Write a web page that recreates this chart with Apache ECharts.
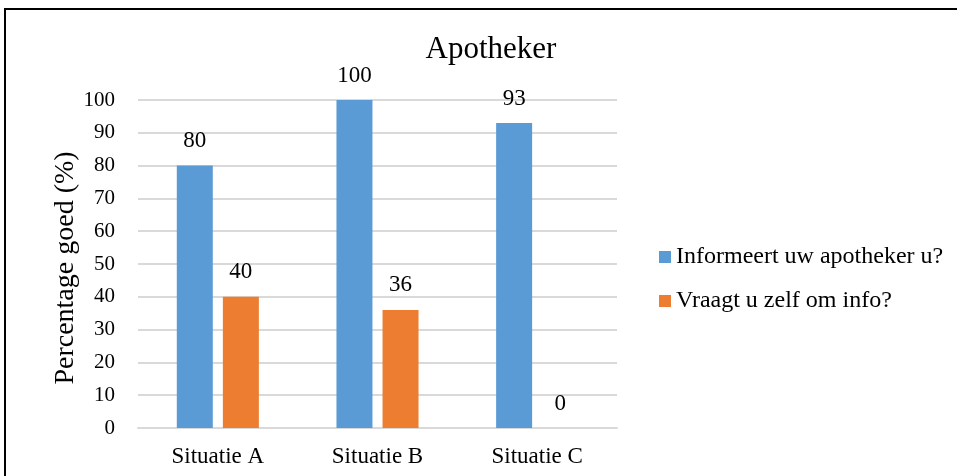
<!DOCTYPE html>
<html>
<head>
<meta charset="utf-8">
<script src="https://cdn.jsdelivr.net/npm/echarts@6/dist/echarts.min.js"></script>
<style>
  html, body { margin: 0; padding: 0; background: #fff; }
  #chart { width: 957px; height: 476px; }
</style>
</head>
<body>
<div id="chart"></div>
<script>
const categories = ['Situatie A', 'Situatie B', 'Situatie C'];
const seriesNames = ['Informeert uw apotheker u?', 'Vraagt u zelf om info?'];
const informeert = [80, 100, 93];
const vraagt = [40, 36, 0];
const colors = ['#5b9bd5', '#ed7d31'];

const font = 'Liberation Serif, Times New Roman, serif';
const chart = echarts.init(document.getElementById('chart'));

const valueLabel = {
  show: true, position: 'top', distance: 13,
  fontFamily: font, fontSize: 23, color: '#000'
};

chart.setOption({
  animation: false,
  textStyle: { fontFamily: font },
  graphic: [{
    type: 'rect',
    shape: { x: 5, y: 9, width: 1000, height: 600 },
    style: { fill: 'none', stroke: '#000', lineWidth: 2 },
    z: 100
  }],
  title: {
    text: 'Apotheker',
    left: 486, top: 29, textAlign: 'center',
    textStyle: { fontFamily: font, fontSize: 31, fontWeight: 'normal', color: '#000' }
  },
  legend: {
    orient: 'vertical',
    left: 654, top: 240,
    itemWidth: 12, itemHeight: 12, itemGap: 20,
    icon: 'rect',
    textStyle: { fontFamily: font, fontSize: 24, color: '#000' },
    data: seriesNames
  },
  grid: { left: 138, right: 340, top: 100, bottom: 48, containLabel: false },
  xAxis: {
    type: 'category',
    data: categories,
    axisLine: { show: true, lineStyle: { color: '#d9d9d9', width: 2 } },
    axisTick: { show: false },
    axisLabel: { fontFamily: font, fontSize: 23, color: '#000', margin: 17 }
  },
  yAxis: {
    type: 'value',
    min: 0, max: 100, interval: 10,
    name: 'Percentage goed (%)',
    nameLocation: 'middle', nameGap: 58,
    nameMoveOverlap: false,
    nameTextStyle: { fontFamily: font, fontSize: 28, color: '#000', padding: [0, 8, 0, 0] },
    axisLine: { show: false },
    axisTick: { show: false },
    axisLabel: { fontFamily: font, fontSize: 21, color: '#000', margin: 23 },
    splitLine: { lineStyle: { color: '#d9d9d9', width: 2 } }
  },
  series: [
    {
      name: seriesNames[0], type: 'bar', data: informeert,
      barWidth: 36, barGap: '28%',
      itemStyle: { color: colors[0] },
      label: valueLabel
    },
    {
      name: seriesNames[1], type: 'bar', data: vraagt,
      barWidth: 36,
      itemStyle: { color: colors[1] },
      label: valueLabel
    }
  ]
});
</script>
</body>
</html>
